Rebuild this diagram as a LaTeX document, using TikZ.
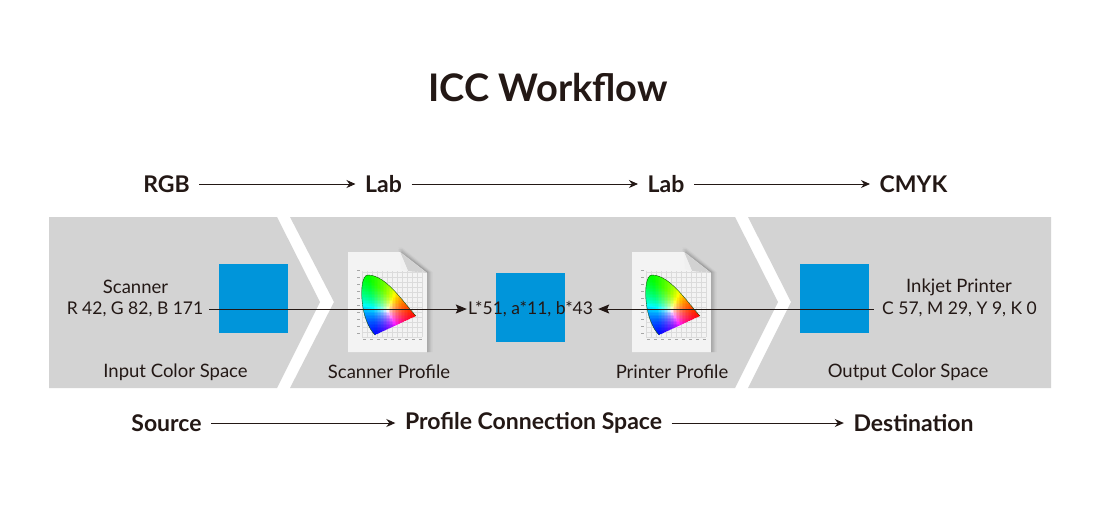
\documentclass[tikz,border=0pt]{standalone}
\usepackage{fontspec}
\setmainfont{Lato}
\usetikzlibrary{arrows.meta}
\definecolor{ink}{HTML}{231815}
\definecolor{band}{HTML}{D3D3D3}
\definecolor{swatch}{HTML}{0095DA}
\definecolor{paper}{HTML}{F3F3F3}
\newcommand{\profiledoc}[2]{%
\begin{scope}[shift={(#1,#2)}]
  \foreach \o/\a in {1/0.10,2.5/0.08,4/0.05,5.5/0.03}{
    \fill[black,opacity=\a] (50,-\o+1) -- (54,-\o+1) -- (79+\o,20) -- (79+\o,100) -- (79,100) -- (79,21) -- cycle;
  }
  \fill[paper] (0,0) -- (52,0) -- (79,21) -- (79,100) -- (0,100) -- cycle;
  \fill[gray!35] (52,0) -- (79,21) -- (60,19) -- cycle;
  \fill[gray!12] (52,0) -- (53,17) -- (60,19) -- cycle;
  \foreach \gx in {14,19,...,74}{\draw[gray!28,line width=0.25pt] (\gx,19) -- (\gx,85);}
  \foreach \gy in {20,25,...,85}{\draw[gray!28,line width=0.25pt] (14,\gy) -- (74,\gy);}
  \foreach \gx in {15,22,...,72}{\fill[gray!70] (\gx,87) rectangle ++(2.5,0.8);}
  \foreach \gy in {18,25,...,84}{\fill[gray!70] (9,\gy) rectangle ++(2.5,0.8);}
  \begin{scope}
    \clip (27,83) -- (68,64) .. controls (55,50) and (38,23) .. (20,23)
      .. controls (14,23) and (13,38) .. (14,48) .. controls (15,62) and (20,76) .. (27,83) -- cycle;
    \foreach \gx in {12,13.5,...,69}{
      \foreach \gy in {22,23.5,...,84}{
        \pgfmathsetmacro{\rr}{max(0,(-57*(\gx-27)+7*(\gy-83))/(-2470))}
        \pgfmathsetmacro{\gg}{max(0,(19*(\gx-27)+41*(\gy-83))/(-2470))}
        \pgfmathsetmacro{\bb}{max(0,1-(-57*(\gx-27)+7*(\gy-83))/(-2470)-(19*(\gx-27)+41*(\gy-83))/(-2470))}
        \pgfmathsetmacro{\mm}{max(max(\rr,\gg),\bb)}
        \pgfmathsetmacro{\rc}{\rr/\mm}
        \pgfmathsetmacro{\gc}{\gg/\mm}
        \pgfmathsetmacro{\bc}{\bb/\mm}
        \definecolor{cell}{rgb}{\rc,\gc,\bc}
        \fill[cell] (\gx,\gy) rectangle ++(1.9,1.9);
      }
    }
  \end{scope}
  \draw[black!70!green,line width=0.35pt] (68,64) .. controls (55,50) and (38,23) .. (20,23)
      .. controls (14,23) and (13,38) .. (14,48) .. controls (15,62) and (20,76) .. (27,83);
\end{scope}}
\tikzset{
  x=1pt,y=-1pt,
  flowlabel/.style={font=\fontsize{23}{26}\bfseries\selectfont,text=ink,inner sep=9.5pt,anchor=center},
  bodylabel/.style={font=\fontsize{18.5}{22}\selectfont,text=ink,inner sep=0pt,anchor=center},
  valuelabel/.style={font=\fontsize{17.5}{22}\selectfont,text=ink,anchor=center},
  flowarrow/.style={draw=ink,line width=0.9pt,-{Stealth[length=9pt,width=8pt]}},
  mainarrow/.style={draw=ink,line width=1pt,-{Stealth[length=11pt,width=9pt,inset=2pt]}},
  swatchbox/.style={fill=swatch,minimum size=69pt,inner sep=0pt,anchor=center}
}
\begin{document}
\begin{tikzpicture}
\useasboundingbox (0,0) rectangle (1100,528);
\fill[white] (0,0) rectangle (1100,528);
% band panels
\fill[band] (49,217) -- (277,217) -- (320,302) -- (277,388) -- (49,388) -- cycle;
\fill[band] (290,217) -- (735,217) -- (778,302) -- (735,388) -- (290,388) -- (334,302) -- cycle;
\fill[band] (748,217) -- (1051,217) -- (1051,388) -- (748,388) -- (791,302) -- cycle;
% swatches
\node[swatchbox] (sw1) at (253.5,298.5) {};
\node[swatchbox] (sw2) at (530.5,307.5) {};
\node[swatchbox] (sw3) at (834.5,298.5) {};
% profile documents
\profiledoc{348}{252}
\profiledoc{632}{252}
% title
\node[font=\fontsize{38}{44}\bfseries\selectfont,text=ink,inner sep=0pt] (title) at (548,88) {ICC Workflow};
% top flow
\node[flowlabel] (rgb) at (166.5,184) {RGB};
\node[flowlabel] (lab1) at (383.5,184) {Lab};
\node[flowlabel] (lab2) at (666,184) {Lab};
\node[flowlabel] (cmyk) at (913.5,184) {CMYK};
\draw[flowarrow] (rgb) -- (lab1);
\draw[flowarrow] (lab1) -- (lab2);
\draw[flowarrow] (lab2) -- (cmyk);
% bottom flow
\node[flowlabel] (src) at (166.5,423) {Source};
\node[flowlabel] (pcs) at (533.5,423) {Profile Connection Space};
\node[flowlabel] (dst) at (913.5,423) {Destination};
\draw[flowarrow] (src) -- (pcs);
\draw[flowarrow] (pcs) -- (dst);
% texts in band
\node[bodylabel] (scn) at (135.5,287) {Scanner};
\node[valuelabel,inner sep=6pt] (scnv) at (135,309.5) {R 42, G 82, B 171};
\node[bodylabel] (ics) at (175.5,372) {Input Color Space};
\node[bodylabel] (spf) at (389,372) {Scanner Profile};
\node[bodylabel] (ppf) at (672,372) {Printer Profile};
\node[bodylabel] (ocs) at (908,372) {Output Color Space};
\node[bodylabel] (ink) at (959,287) {Inkjet Printer};
\node[valuelabel,inner sep=8pt] (inkv) at (959.5,309.5) {C 57, M 29, Y 9, K 0};
\node[valuelabel,inner sep=1pt] (labv) at (530.5,309.5) {L*51, a*11, b*43};
% main arrows
\draw[mainarrow] (scnv.east |- 0,309) -- (labv.west |- 0,309);
\draw[mainarrow] (inkv.west |- 0,309) -- ([xshift=4pt]labv.east |- 0,309);
\end{tikzpicture}
\end{document}
